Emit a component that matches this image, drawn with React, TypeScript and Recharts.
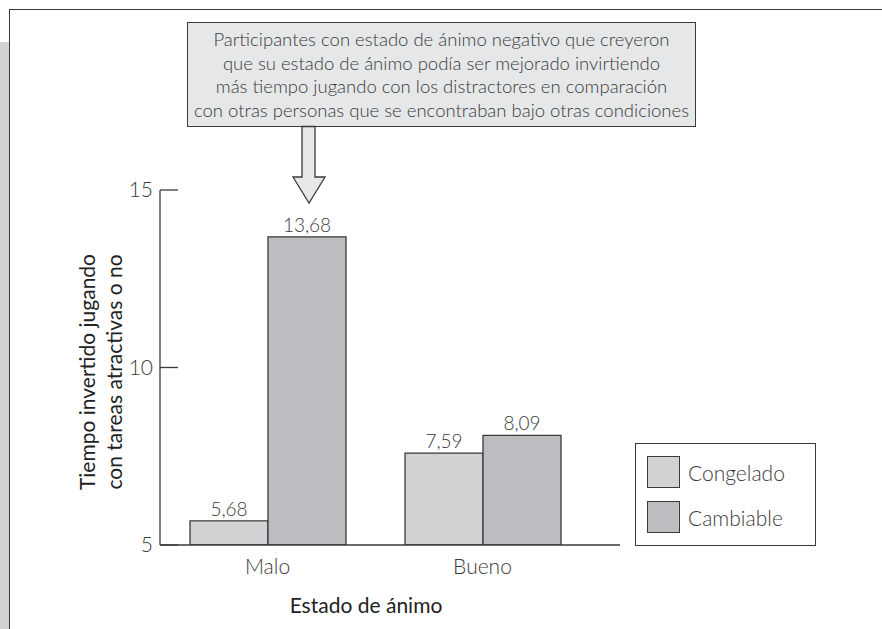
import { BarChart, Bar, XAxis, YAxis, LabelList } from 'recharts';

const categories = ['Malo', 'Bueno'];
const congelado = [5.68, 7.59];
const cambiable = [13.68, 8.09];
const yTicks = [5, 10, 15];

const seriesNames = ['Congelado', 'Cambiable'];
const seriesColors = ['#d1d2d4', '#bcbdc0'];

const calloutLines = [
  'Participantes con estado de ánimo negativo que creyeron',
  'que su estado de ánimo podía ser mejorado invirtiendo',
  'más tiempo jugando con los distractores en comparación',
  'con otras personas que se encontraban bajo otras condiciones',
];

const data = categories.map((name, i) => ({
  name,
  congelado: congelado[i],
  cambiable: cambiable[i],
}));

const FONT = 'Lato, "Open Sans", sans-serif';
const INK = '#3a3a3a';

const fmt = (v: any) => String(v).replace('.', ',');

const YTick = (props: any) => {
  const { x, y, payload } = props;
  return (
    <g>
      <line x1={x} y1={y} x2={x + 18} y2={y} stroke={INK} strokeWidth={1.3} />
      <text
        x={x - 7}
        y={y}
        dy={7}
        textAnchor="end"
        fontFamily={FONT}
        fontWeight={300}
        fontSize={21}
        fill={INK}
      >
        {payload.value}
      </text>
    </g>
  );
};

const LegendBox = () => (
  <div
    style={{
      position: 'absolute',
      left: 635,
      top: 443,
      width: 181,
      height: 103,
      border: `1.5px solid ${INK}`,
      background: '#fff',
      boxSizing: 'border-box',
      fontFamily: FONT,
      fontWeight: 300,
    }}
  >
    {seriesNames.map((n, i) => (
      <div
        key={n}
        style={{ position: 'absolute', left: 11, top: 12 + i * 45, display: 'flex', alignItems: 'center' }}
      >
        <div
          style={{
            width: 33,
            height: 32,
            background: seriesColors[i],
            border: `1.5px solid ${INK}`,
            boxSizing: 'border-box',
          }}
        />
        <span style={{ marginLeft: 8, fontSize: 21, color: INK }}>{n}</span>
      </div>
    ))}
  </div>
);

const App = () => {
  return (
    <div style={{ position: 'absolute', left: 0, top: 0, width: 882, height: 629, background: '#fff', overflow: 'hidden' }}>
      {/* page frame */}
      <div style={{ position: 'absolute', left: 0, top: 42, width: 9, height: 600, background: '#d1d2d4' }} />
      <div style={{ position: 'absolute', left: 9, top: 9, width: 900, height: 700, borderLeft: `1.5px solid ${INK}`, borderTop: `1.5px solid ${INK}` }} />

      <div style={{ position: 'absolute', left: 0, top: 0 }}>
        <BarChart
          width={882}
          height={629}
          data={data}
          margin={{ top: 190, right: 262, bottom: 54, left: 100 }}
          barGap={0}
          barCategoryGap={30}
        >
          <XAxis
            dataKey="name"
            height={30}
            padding={{ left: 0, right: 30 }}
            axisLine={{ stroke: INK, strokeWidth: 1.3 }}
            tickLine={false}
            tickMargin={8}
            tick={{ fontFamily: FONT, fontWeight: 300, fontSize: 21, fill: INK }}
          />
          <YAxis
            width={60}
            domain={[5, 15]}
            ticks={yTicks}
            allowDataOverflow
            axisLine={{ stroke: INK, strokeWidth: 1.3 }}
            tickLine={false}
            tickSize={0}
            tickMargin={0}
            tick={<YTick />}
          />
          <Bar dataKey="congelado" name={seriesNames[0]} fill={seriesColors[0]} stroke={INK} strokeWidth={1.3} isAnimationActive={false}>
            <LabelList dataKey="congelado" position="top" offset={5} formatter={fmt} style={{ fontFamily: FONT, fontWeight: 300, fontSize: 19, fill: INK }} />
          </Bar>
          <Bar dataKey="cambiable" name={seriesNames[1]} fill={seriesColors[1]} stroke={INK} strokeWidth={1.3} isAnimationActive={false}>
            <LabelList dataKey="cambiable" position="top" offset={5} formatter={fmt} style={{ fontFamily: FONT, fontWeight: 300, fontSize: 19, fill: INK }} />
          </Bar>
        </BarChart>
      </div>

      <LegendBox />

      {/* y axis title */}
      <div
        style={{
          position: 'absolute',
          left: 100,
          top: 372,
          transform: 'translate(-50%, -50%) rotate(-90deg)',
          whiteSpace: 'nowrap',
          textAlign: 'center',
          fontFamily: FONT,
          fontSize: 21,
          lineHeight: '27px',
          color: '#222',
        }}
      >
        Tiempo invertido jugando
        <br />
        con tareas atractivas o no
      </div>

      {/* x axis title */}
      <div
        style={{
          position: 'absolute',
          left: 366,
          top: 604,
          transform: 'translate(-50%, -50%)',
          whiteSpace: 'nowrap',
          fontFamily: FONT,
          fontSize: 21,
          color: '#222',
        }}
      >
        Estado de ánimo
      </div>

      {/* callout */}
      <div
        style={{
          position: 'absolute',
          left: 187,
          top: 22,
          width: 509,
          height: 105,
          boxSizing: 'border-box',
          background: '#e6e7e8',
          border: `1.5px solid ${INK}`,
          textAlign: 'center',
          fontFamily: FONT,
          fontWeight: 300,
          fontSize: 18.5,
          lineHeight: '23.5px',
          color: INK,
          paddingTop: 5,
          whiteSpace: 'nowrap',
        }}
      >
        {calloutLines.map((l) => (
          <div key={l}>{l}</div>
        ))}
      </div>
      <svg style={{ position: 'absolute', left: 0, top: 0 }} width={882} height={629}>
        <polygon
          points="302,126.5 315,126.5 315,177 325,177 309,203 293,177 302,177"
          fill="#e6e7e8"
          stroke={INK}
          strokeWidth={1.3}
        />
      </svg>
    </div>
  );
};

export default App;
